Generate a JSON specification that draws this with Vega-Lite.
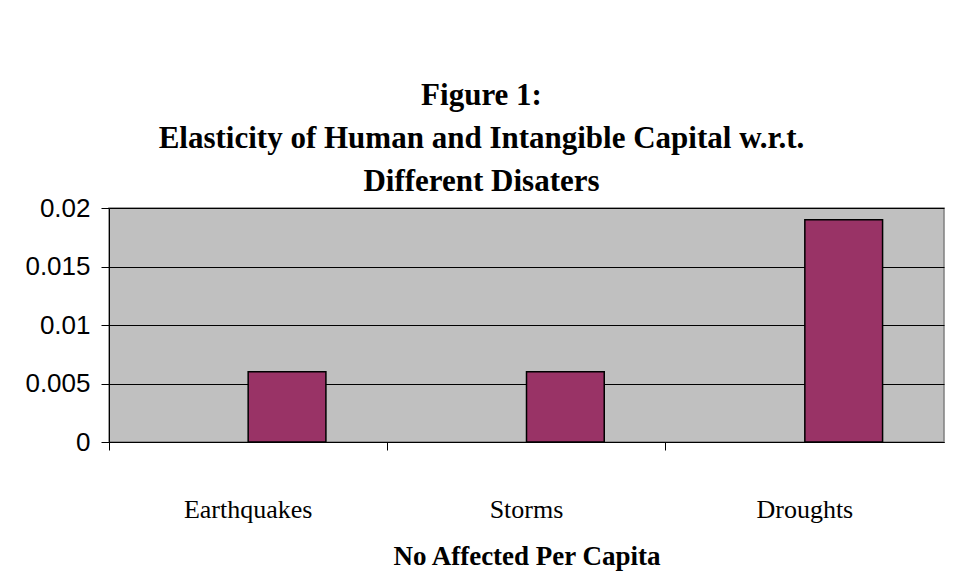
{
  "$schema": "https://vega.github.io/schema/vega-lite/v6.json",
  "width": 835,
  "height": 234,
  "autosize": {"type": "none"},
  "padding": {"left": 109, "top": 208, "right": 19, "bottom": 132},
  "background": "white",
  "title": {
    "text": ["Figure 1:", "Elasticity of Human and Intangible Capital w.r.t.", "Different Disaters"],
    "font": "Liberation Serif",
    "fontSize": 31,
    "fontWeight": "bold",
    "color": "black",
    "lineHeight": 43,
    "anchor": "middle",
    "dx": -45,
    "offset": -3
  },
  "data": {
    "values": [
      {"disaster": "Earthquakes", "series": "A", "value": null},
      {"disaster": "Earthquakes", "series": "B", "value": 0.006},
      {"disaster": "Storms", "series": "A", "value": null},
      {"disaster": "Storms", "series": "B", "value": 0.006},
      {"disaster": "Droughts", "series": "A", "value": null},
      {"disaster": "Droughts", "series": "B", "value": 0.019}
    ]
  },
  "mark": {"type": "bar", "color": "#993366", "stroke": "black", "strokeWidth": 1.5},
  "encoding": {
    "x": {
      "field": "disaster",
      "type": "nominal",
      "sort": null,
      "scale": {"paddingInner": 0, "paddingOuter": 0},
      "axis": {
        "title": "No Affected Per Capita",
        "titleFont": "Liberation Serif",
        "titleFontSize": 27,
        "titleFontWeight": "bold",
        "titleColor": "black",
        "titlePadding": 21,
        "labelFont": "Liberation Serif",
        "labelFontSize": 26,
        "labelColor": "black",
        "labelAngle": 0,
        "labelPadding": 46,
        "bandPosition": 0,
        "ticks": true,
        "tickSize": 8,
        "tickColor": "black",
        "domainColor": "black",
        "domainWidth": 1,
        "grid": false
      }
    },
    "xOffset": {
      "field": "series",
      "type": "nominal",
      "scale": {"domain": ["A", "B"], "paddingInner": 0, "paddingOuter": 0.79}
    },
    "y": {
      "field": "value",
      "type": "quantitative",
      "scale": {"domain": [0, 0.02]},
      "axis": {
        "title": null,
        "values": [0, 0.005, 0.01, 0.015, 0.02],
        "format": "~g",
        "labelFont": "Liberation Sans",
        "labelFontSize": 26,
        "labelColor": "black",
        "labelPadding": 11,
        "tickSize": 8,
        "tickColor": "black",
        "domainColor": "black",
        "grid": true,
        "gridColor": "black",
        "gridWidth": 1,
        "gridOpacity": 1
      }
    }
  },
  "config": {
    "view": {"fill": "#C0C0C0", "stroke": "#808080", "strokeWidth": 1.5}
  }
}
